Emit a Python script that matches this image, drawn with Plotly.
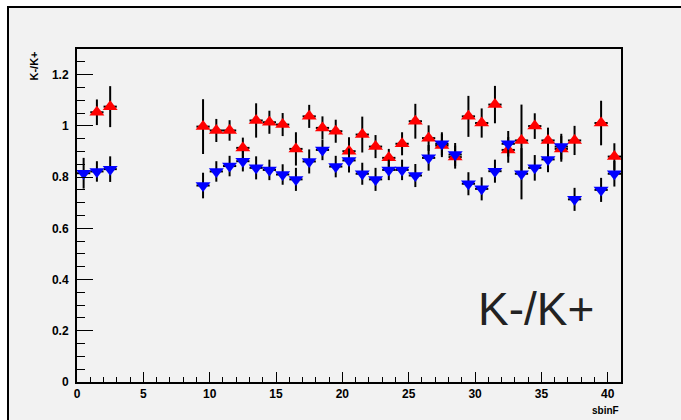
import plotly.graph_objects as go

# Bin centres and values
red_bins = [1, 2, 9, 10, 11, 12, 13, 14, 15, 16, 17, 18, 19, 20, 21, 22, 23, 24, 25,
            26, 27, 28, 29, 30, 31, 32, 33, 34, 35, 36, 37, 39, 40]
red_vals = [1.053, 1.075, 0.997, 0.982, 0.982, 0.914, 1.021, 1.014, 1.005, 0.910, 1.037,
            0.992, 0.979, 0.901, 0.966, 0.919, 0.875, 0.930, 1.018, 0.952, 0.923, 0.878,
            1.037, 1.011, 1.083, 0.906, 0.943, 0.999, 0.943, 0.910, 0.943, 1.011, 0.880]
red_errs = [0.05, 0.08, 0.107, 0.045, 0.04, 0.04, 0.067, 0.045, 0.045, 0.065, 0.045,
            0.045, 0.045, 0.054, 0.07, 0.045, 0.035, 0.045, 0.068, 0.05, 0.045, 0.045,
            0.08, 0.057, 0.073, 0.05, 0.14, 0.05, 0.05, 0.05, 0.057, 0.087, 0.052]

blue_bins = [0, 1, 2, 9, 10, 11, 12, 13, 14, 15, 16, 17, 18, 19, 20, 21, 22, 23, 24, 25,
             26, 27, 28, 29, 30, 31, 32, 33, 34, 35, 36, 37, 39, 40]
blue_vals = [0.815, 0.822, 0.831, 0.767, 0.822, 0.843, 0.862, 0.836, 0.828, 0.810, 0.791,
             0.861, 0.906, 0.841, 0.865, 0.813, 0.791, 0.828, 0.828, 0.806, 0.875, 0.930,
             0.888, 0.774, 0.754, 0.823, 0.930, 0.813, 0.836, 0.869, 0.919, 0.713, 0.750,
             0.813]
blue_errs = [0.06, 0.04, 0.05, 0.05, 0.04, 0.04, 0.04, 0.045, 0.04, 0.04, 0.045,
             0.047, 0.04, 0.042, 0.047, 0.043, 0.045, 0.04, 0.04, 0.045, 0.05, 0.045,
             0.045, 0.045, 0.045, 0.045, 0.05, 0.10, 0.05, 0.05, 0.05, 0.045, 0.047, 0.05]

bin_width = 1.0
x_title = "sbinF"
y_title = "K-/K+"
label_text = "K-/K+"

W, H = 681, 420
L, R, T, B = 77, 621, 49, 382
pw, ph = R - L, B - T

def px(x):
    return (x - L) / pw

def py(y):
    return (B - y) / ph

fig = go.Figure()

def add_series(bins, vals, errs, color, symbol):
    xs = [b + bin_width / 2 for b in bins]
    # error bars first
    fig.add_trace(go.Scatter(
        x=xs, y=vals, mode="markers",
        marker=dict(size=0, color="rgba(0,0,0,0)"),
        error_y=dict(type="data", array=errs, color="black", thickness=2, width=0),
        error_x=dict(type="constant", value=bin_width / 2, color="black", thickness=2, width=0),
        showlegend=False, hoverinfo="skip"))
    # markers on top
    fig.add_trace(go.Scatter(
        x=xs, y=vals, mode="markers",
        marker=dict(symbol=symbol, size=13, color=color, line=dict(width=0)),
        showlegend=False, hoverinfo="x+y"))

add_series(red_bins, red_vals, red_errs, "#ff0000", "triangle-up")
add_series(blue_bins, blue_vals, blue_errs, "#0000ff", "triangle-down")

tickfont = dict(family="Liberation Sans", size=12, color="black", weight="bold")

fig.update_layout(
    width=W, height=H,
    margin=dict(l=L, r=W - R, t=T, b=H - B, pad=0),
    paper_bgcolor="white", plot_bgcolor="#f2f2f2",
    xaxis=dict(range=[0, 41], showgrid=False, zeroline=False,
               showline=True, linecolor="black", linewidth=2, mirror=True,
               ticks="inside", ticklen=10, tickwidth=1, tickcolor="black",
               tick0=0, dtick=5, tickfont=tickfont,
               minor=dict(ticks="inside", ticklen=5, dtick=1, tickcolor="black", tickwidth=1)),
    yaxis=dict(range=[0, 1.3], showgrid=False, zeroline=False,
               showline=True, linecolor="black", linewidth=2, mirror=True,
               ticks="inside", ticklen=16, tickwidth=1, tickcolor="black",
               tick0=0, dtick=0.2, tickfont=tickfont, ticklabelstandoff=4,
               minor=dict(ticks="inside", ticklen=8, dtick=0.05, tickcolor="black", tickwidth=1)),
    shapes=[dict(type="rect", xref="paper", yref="paper", layer="below",
                 x0=px(8), x1=px(700), y0=py(7), y1=py(440),
                 fillcolor="#f2f2f2", line=dict(color="black", width=2))],
    annotations=[
        dict(text=y_title, textangle=-90, xref="paper", yref="paper",
             x=px(33), y=py(50), xanchor="center", yanchor="top", showarrow=False,
             font=dict(family="Liberation Sans", size=11, color="black", weight="bold")),
        dict(text=x_title, xref="paper", yref="paper",
             x=1, y=py(410), xanchor="right", yanchor="middle", showarrow=False,
             font=dict(family="Liberation Sans", size=10, color="black", weight="bold")),
        dict(text=label_text, xref="paper", yref="paper",
             x=px(536), y=py(309), xanchor="center", yanchor="middle", showarrow=False,
             font=dict(family="Liberation Sans", size=46, color="#222222")),
    ],
)

fig.write_html("out.html")
